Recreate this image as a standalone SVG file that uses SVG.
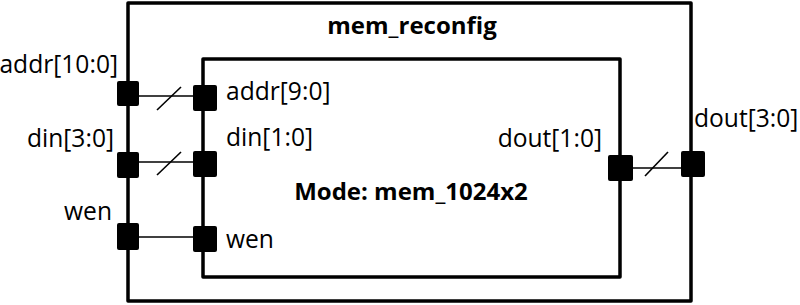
<svg xmlns="http://www.w3.org/2000/svg" width="800" height="305" viewBox="0 0 800 305">
<style>
.box{fill:none;stroke:#000;stroke-width:3.5;stroke-linejoin:round}
.port{fill:#000;stroke:none}
.wire{stroke:#000;stroke-width:1.6;fill:none}
.lbl{font-family:"Open Sans","Liberation Sans",sans-serif;font-size:24.6px;fill:#000}
.title{font-family:"Open Sans","Liberation Sans",sans-serif;font-size:24px;font-weight:bold;fill:#000}
</style>
<rect width="800" height="305" fill="#fff"/>
<g id="mem_reconfig">
<rect class="box" x="128" y="3" width="563" height="298"/>
<text class="title" x="412" y="34" text-anchor="middle">mem_reconfig</text>
<rect class="port" x="117" y="81" width="22" height="25" rx="2"/>
<rect class="port" x="117" y="152" width="22" height="26" rx="2"/>
<rect class="port" x="117" y="223" width="22" height="27" rx="2"/>
<rect class="port" x="681" y="151" width="24" height="26" rx="2"/>
<text class="lbl" x="118" y="73" text-anchor="end">addr[10:0]</text>
<text class="lbl" x="114" y="147" text-anchor="end">din[3:0]</text>
<text class="lbl" x="112" y="220" text-anchor="end">wen</text>
<text class="lbl" x="694" y="127">dout[3:0]</text>
</g>
<g id="mem_1024x2">
<rect class="box" x="203" y="59" width="417" height="218"/>
<text class="title" x="411" y="200" text-anchor="middle">Mode: mem_1024x2</text>
<rect class="port" x="193" y="85" width="24" height="26" rx="2"/>
<rect class="port" x="193" y="151" width="24" height="26" rx="2"/>
<rect class="port" x="193" y="226" width="24" height="26" rx="2"/>
<rect class="port" x="608" y="155" width="25" height="26" rx="2"/>
<text class="lbl" x="226" y="100">addr[9:0]</text>
<text class="lbl" x="226" y="146">din[1:0]</text>
<text class="lbl" x="226" y="248">wen</text>
<text class="lbl" x="602" y="147" text-anchor="end">dout[1:0]</text>
</g>
<g id="connectors">
<line class="wire" x1="139" y1="96" x2="193" y2="96"/>
<line class="wire" x1="157" y1="110" x2="181" y2="87"/>
<line class="wire" x1="139" y1="162" x2="193" y2="162"/>
<line class="wire" x1="157" y1="175" x2="181" y2="152"/>
<line class="wire" x1="139" y1="237" x2="193" y2="237"/>
<line class="wire" x1="633" y1="168" x2="681" y2="168"/>
<line class="wire" x1="645" y1="176" x2="668" y2="152"/>
</g>
</svg>
